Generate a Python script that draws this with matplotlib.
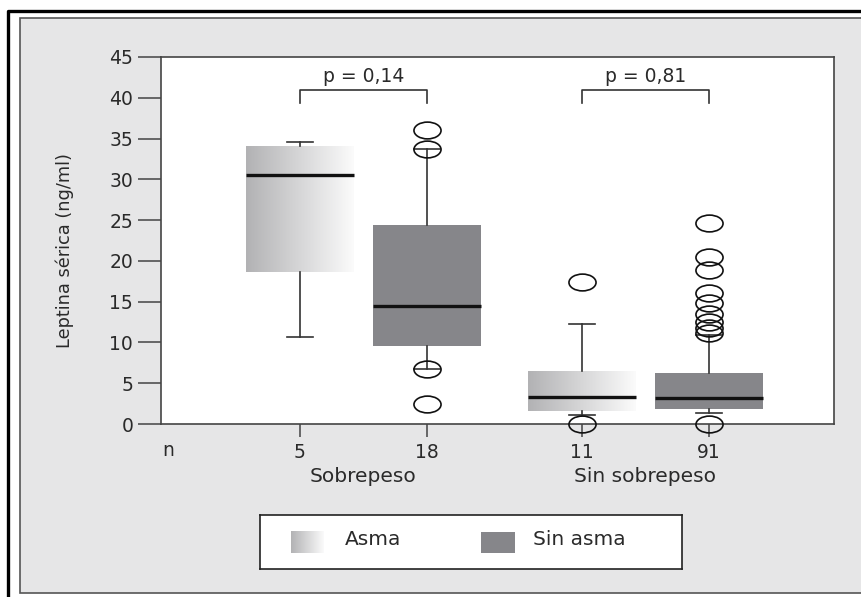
import numpy as np
import matplotlib
matplotlib.use("Agg")
import matplotlib.pyplot as plt
from matplotlib.path import Path
from matplotlib.patches import Rectangle
from matplotlib.lines import Line2D
from matplotlib.colors import LinearSegmentedColormap

## datos
groups = ["Sobrepeso", "Sin sobrepeso"]
n_labels = ["5", "18", "11", "91"]
positions = [1, 2, 3.22, 4.22]
asma = [True, False, True, False]
q1 = [18.6, 9.6, 1.6, 1.8]
medians = [30.5, 14.5, 3.3, 3.2]
q3 = [34.1, 24.4, 6.5, 6.3]
whisker_lo = [10.7, 6.8, 1.1, 1.3]
whisker_hi = [34.6, 33.7, 12.3, 10.9]
fliers = [
    [],
    [2.5, 6.8, 33.7, 36.1],
    [0.0, 17.4],
    [0.0, 11.2, 11.8, 12.5, 13.5, 14.8, 16.1, 18.9, 20.5, 24.6],
]
p_values = ["p = 0,14", "p = 0,81"]
yticks = list(range(0, 50, 5))

W, H = 862, 597
plt.rcParams['font.family'] = ['DejaVu Sans']
TXT = '#2a2a2a'
SPINE = '#444444'
DARK = '#86868a'
grad_cmap = LinearSegmentedColormap.from_list('asma', ['#b2b2b4', '#fbfbfb'])
grad = np.linspace(0, 1, 256).reshape(1, -1)

fig = plt.figure(figsize=(W / 100, H / 100), dpi=100)
fig.patch.set_facecolor('white')

# panel gris + marco negro
fig.add_artist(Rectangle((20 / W, 4 / H), 1.0, (593 - 18) / H, transform=fig.transFigure,
                         facecolor='#e6e6e7', edgecolor='#555555', lw=1.2, zorder=0))
fig.add_artist(Line2D([8 / W, 8 / W, 1.0], [0.0, 1 - 11 / H, 1 - 11 / H],
                      transform=fig.transFigure, color='black', lw=2.4, zorder=1))

ax = fig.add_axes([161 / W, 1 - 424 / H, (834 - 161) / W, (424 - 57) / H])
ax.set_facecolor('white')

# marcador eliptico (circulos achatados como en el original)
circ = Path.unit_circle()
ell = Path(circ.vertices * np.array([1.0, 0.62]), circ.codes)

stats = []
for i in range(len(positions)):
    stats.append(dict(med=medians[i], q1=q1[i], q3=q3[i], whislo=whisker_lo[i],
                      whishi=whisker_hi[i], fliers=fliers[i]))

bp = ax.bxp(stats, positions=positions, widths=0.85, capwidths=0.21, patch_artist=True,
            boxprops=dict(edgecolor='none', linewidth=0),
            whiskerprops=dict(color='#333333', lw=1.2),
            capprops=dict(color='#333333', lw=1.2),
            medianprops=dict(color='#111111', lw=2.4),
            flierprops=dict(marker=ell, markersize=19.5, markerfacecolor='none',
                            markeredgecolor='#111111', markeredgewidth=1.2))
for fl in bp['fliers']:
    fl.set_clip_on(False)
    fl.set_zorder(4)

for i, box in enumerate(bp['boxes']):
    if asma[i]:
        box.set_facecolor('none')
        x0 = positions[i] - 0.425
        im = ax.imshow(grad, cmap=grad_cmap, aspect='auto', zorder=1.5,
                       extent=[x0, x0 + 0.85, q1[i], q3[i]])
        im.set_clip_path(box)
    else:
        box.set_facecolor(DARK)

# corchetes con p
for k in range(2):
    xa, xb = positions[2 * k], positions[2 * k + 1]
    ax.plot([xa, xa, xb, xb], [39.4, 41, 41, 39.4], color='#333333', lw=1.2)
    ax.text((xa + xb) / 2, 42.6, p_values[k], ha='center', va='center',
            fontsize=13.5, color=TXT)

ax.set_xlim(-0.0945, 5.205)
ax.set_ylim(0, 45)
ax.set_yticks(yticks)
ax.set_yticklabels([str(v) for v in yticks])
ax.set_xticks(positions)
ax.set_xticklabels(n_labels)
ax.tick_params(axis='y', direction='out', length=16.5, width=1.1, pad=3.5,
               labelsize=13.5, colors=SPINE, labelcolor=TXT)
ax.tick_params(axis='x', direction='out', length=9.4, width=1.1, pad=4.3,
               labelsize=13.5, colors=SPINE, labelcolor=TXT)
for sp in ax.spines.values():
    sp.set_color(SPINE)
    sp.set_linewidth(1.2)

tr = ax.get_xaxis_transform()
ax.text(-0.04, -0.071, "n", transform=tr, ha='center', va='center', fontsize=13.5, color=TXT)
for k in range(2):
    xm = (positions[2 * k] + positions[2 * k + 1]) / 2
    ax.text(xm, -0.143, groups[k], transform=tr, ha='center', va='center',
            fontsize=14.5, color=TXT)

fig.text(65 / W, 1 - 250 / H, "Leptina sérica (ng/ml)", rotation=90, ha='center',
         va='center', fontsize=12.8, color=TXT)

# leyenda
lg = fig.add_axes([260 / W, 1 - 569 / H, (682 - 260) / W, (569 - 515) / H])
lg.set_xticks([])
lg.set_yticks([])
lg.set_facecolor('white')
for sp in lg.spines.values():
    sp.set_color('#222222')
    sp.set_linewidth(1.2)
lg.imshow(grad, cmap=grad_cmap, aspect='auto', extent=[0.073, 0.149, 0.296, 0.685])
lg.add_patch(Rectangle((0.524, 0.296), 0.080, 0.389, facecolor=DARK, edgecolor='none'))
lg.set_xlim(0, 1)
lg.set_ylim(0, 1)
lg.text(0.2, 0.54, "Asma", ha='left', va='center', fontsize=14.5, color=TXT)
lg.text(0.647, 0.54, "Sin asma", ha='left', va='center', fontsize=14.5, color=TXT)

fig.savefig("out.png", dpi=100)
